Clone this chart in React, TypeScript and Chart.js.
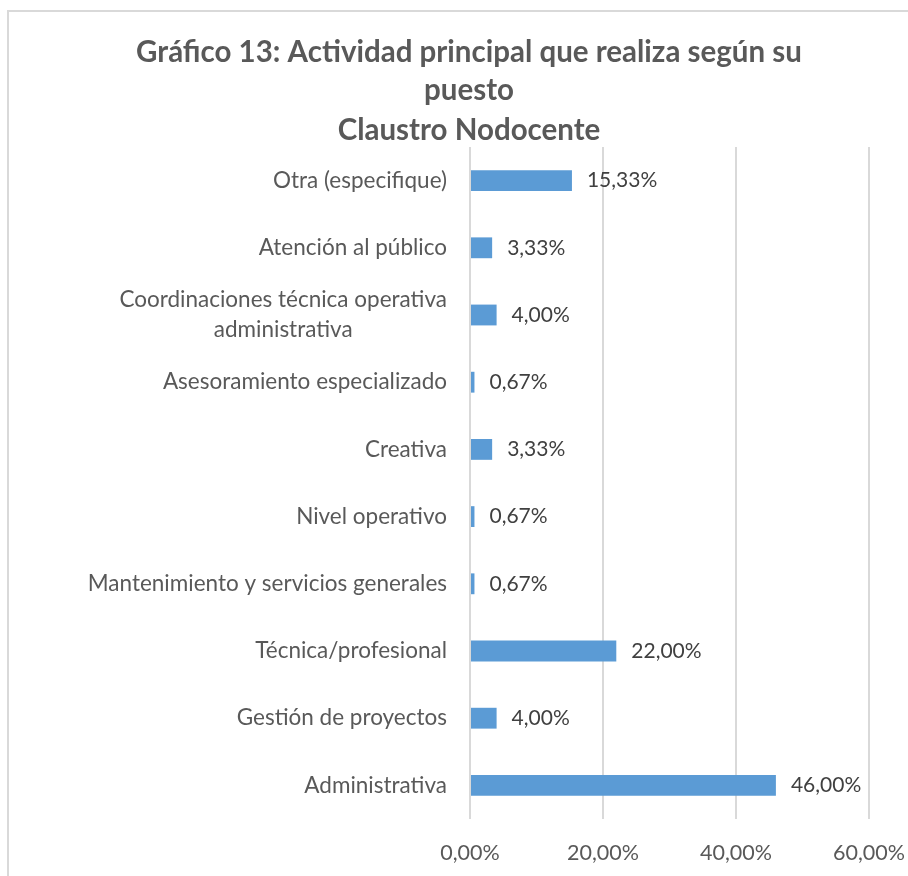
import React, { useEffect, useRef } from "react";
import { Chart, registerables } from "chart.js";

Chart.register(...registerables);

const titleLines = [
  "Gráfico 13: Actividad principal que realiza según su",
  "puesto",
  "Claustro Nodocente",
];

const categories: (string | string[])[] = [
  "Otra (especifique)",
  "Atención al público",
  ["Coordinaciones técnica operativa", "administrativa"],
  "Asesoramiento especializado",
  "Creativa",
  "Nivel operativo",
  "Mantenimiento y servicios generales",
  "Técnica/profesional",
  "Gestión de proyectos",
  "Administrativa",
];

const values = [15.33, 3.33, 4.0, 0.67, 3.33, 0.67, 0.67, 22.0, 4.0, 46.0];

const xTickValues = [0, 20, 40, 60];

const FONT = "Lato, 'Open Sans', sans-serif";
const fmt = (v: number) => v.toFixed(2).replace(".", ",") + "%";

const CW = 920;
const CH = 880;

const drawPlugin = {
  id: "customText",
  afterDraw(chart: any) {
    const ctx = chart.ctx as CanvasRenderingContext2D;
    const area = chart.chartArea;
    const yScale = chart.scales.y;
    ctx.save();
    // title
    ctx.fillStyle = "#595959";
    ctx.font = `bold 29.5px ${FONT}`;
    ctx.textAlign = "center";
    ctx.textBaseline = "middle";
    const tc = 469 - 9;
    const ty = [52 - 12, 90 - 12, 130 - 12];
    titleLines.forEach((t, i) => ctx.fillText(t, tc, ty[i]));

    // y labels
    ctx.font = `22.5px ${FONT}`;
    ctx.fillStyle = "#595959";
    const right = area.left - 23;
    categories.forEach((c, i) => {
      const y = yScale.getPixelForValue(i);
      const lines = Array.isArray(c) ? c : [c];
      const lh = 30;
      const widths = lines.map((l) => ctx.measureText(l).width);
      const bw = Math.max(...widths);
      lines.forEach((l, j) => {
        const ly = y + (j - (lines.length - 1) / 2) * lh;
        ctx.textAlign = "center";
        ctx.fillText(l, right - bw / 2, ly);
      });
    });

    // data labels
    ctx.font = `21px ${FONT}`;
    ctx.fillStyle = "#404040";
    ctx.textAlign = "left";
    const meta = chart.getDatasetMeta(0);
    meta.data.forEach((bar: any, i: number) => {
      ctx.fillText(fmt(values[i]), bar.x + 15, bar.y);
    });
    ctx.restore();
  },
};

export default function App() {
  const ref = useRef<HTMLCanvasElement | null>(null);
  useEffect(() => {
    if (!ref.current) return;
    const chart = new Chart(ref.current, {
      type: "bar",
      data: {
        labels: categories as any,
        datasets: [
          {
            data: values,
            backgroundColor: "#5b9bd5",
            borderWidth: 0,
            categoryPercentage: 1,
            barPercentage: 0.31,
          },
        ],
      },
      options: {
        indexAxis: "y",
        animation: false,
        responsive: false,
        maintainAspectRatio: false,
        layout: { padding: { top: 135, right: CW - 860, left: 0, bottom: 0 } },
        plugins: {
          legend: { display: false },
          title: { display: false },
          tooltip: { enabled: false },
        },
        scales: {
          x: {
            min: 0,
            max: 60,
            afterBuildTicks: (scale: any) => {
              scale.ticks = xTickValues.map((v) => ({ value: v }));
            },
            afterFit: (scale: any) => {
              scale.height = CH - 807;
            },
            grid: { color: "#d9d9d9", lineWidth: 2, drawTicks: false },
            border: { display: false },
            ticks: {
              color: "#595959",
              font: { family: FONT, size: 21.5 },
              padding: 21,
              callback: (v: any) => fmt(Number(v)),
            },
          },
          y: {
            afterFit: (scale: any) => {
              scale.width = 461;
            },
            grid: { display: false },
            border: { display: false },
            ticks: { display: false },
          },
        },
      },
      plugins: [drawPlugin],
    });
    return () => chart.destroy();
  }, []);
  return (
    <div
      style={{
        position: "fixed",
        left: 0,
        top: 0,
        width: 908,
        height: 876,
        overflow: "hidden",
        background: "#fff",
      }}
    >
      <div
        style={{
          position: "absolute",
          left: 7,
          top: 10,
          width: CW,
          height: CH,
          borderLeft: "2px solid #d9d9d9",
          borderTop: "2px solid #d9d9d9",
        }}
      >
        <canvas ref={ref} width={CW} height={CH} style={{ display: "block" }} />
      </div>
    </div>
  );
}
